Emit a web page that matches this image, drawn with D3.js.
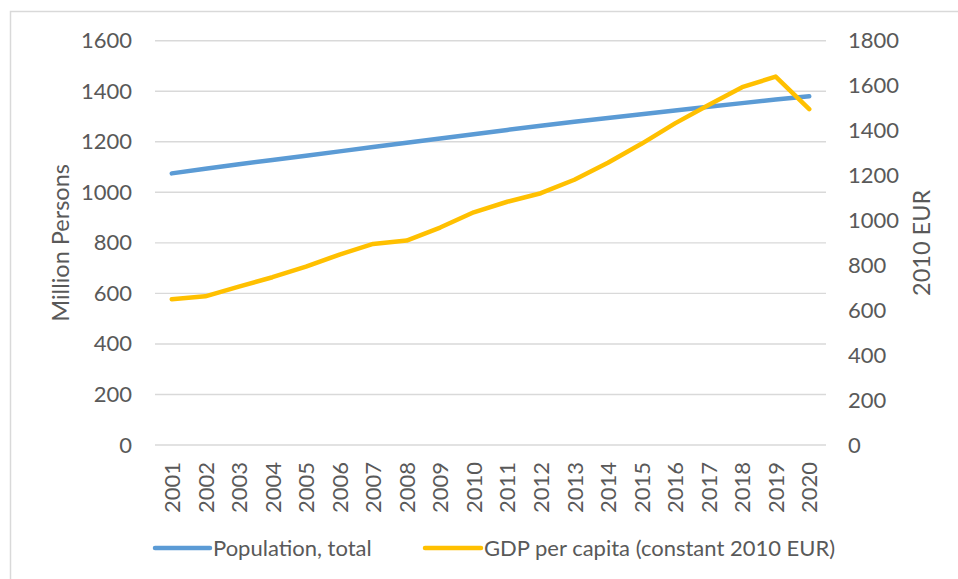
<!DOCTYPE html>
<html>
<head>
<meta charset="utf-8">
<script src="https://cdn.jsdelivr.net/npm/d3@7/dist/d3.min.js"></script>
<style>
  html, body { margin: 0; padding: 0; background: #fff; }
  svg { display: block; }
  text { font-family: Lato, "Open Sans", sans-serif; fill: #595959; }
</style>
</head>
<body>
<svg id="chart" width="958" height="579"></svg>
<script>
const years = ["2001","2002","2003","2004","2005","2006","2007","2008","2009","2010",
               "2011","2012","2013","2014","2015","2016","2017","2018","2019","2020"];
const population = [1075, 1093, 1111, 1128, 1145, 1162, 1179, 1196, 1213, 1230,
                    1247, 1263, 1279, 1294, 1309, 1324, 1339, 1353, 1367, 1380];
const gdpPerCapita = [649, 662, 705, 747, 794, 848, 895, 910, 968, 1036,
                      1083, 1121, 1181, 1257, 1341, 1432, 1514, 1593, 1640, 1495];
const leftTicks = [0, 200, 400, 600, 800, 1000, 1200, 1400, 1600];
const rightTicks = [0, 200, 400, 600, 800, 1000, 1200, 1400, 1600, 1800];
const seriesNames = ["Population, total", "GDP per capita (constant 2010 EUR)"];
const leftTitle = "Million Persons";
const rightTitle = "2010 EUR";
const colors = ["#5B9BD5", "#FFC000"];

const svg = d3.select("#chart");
const plot = { left: 155, right: 826, top: 40.7, bottom: 445 };
const fs = 22;
const titleFs = 23.5;

// outer border
svg.append("rect").attr("x", 10.5).attr("y", 11.5).attr("width", 980).attr("height", 620)
  .attr("fill", "none").attr("stroke", "#D9D9D9").attr("stroke-width", 1.5);

const x = d3.scalePoint().domain(years).range([plot.left, plot.right]).padding(0.5);
const yL = d3.scaleLinear().domain([0, 1600]).range([plot.bottom, plot.top]);
const yR = d3.scaleLinear().domain([0, 1800]).range([plot.bottom, plot.top]);

// gridlines
svg.append("g").selectAll("line").data(leftTicks).join("line")
  .attr("x1", plot.left).attr("x2", plot.right)
  .attr("y1", d => yL(d)).attr("y2", d => yL(d))
  .attr("stroke", "#D9D9D9").attr("stroke-width", 1.4);

// left axis
const gL = svg.append("g").attr("transform", `translate(${plot.left - 23},0)`)
  .call(d3.axisLeft(yL).tickValues(leftTicks).tickSize(0).tickPadding(0).tickFormat(d3.format("d")));
gL.select(".domain").remove();
gL.selectAll("text").style("font-size", fs + "px").attr("fill", "#595959")
  .style("font-family", "Lato, 'Open Sans', sans-serif");

// right axis
const gR = svg.append("g").attr("transform", `translate(${plot.right + 22},0)`)
  .call(d3.axisRight(yR).tickValues(rightTicks).tickSize(0).tickPadding(0).tickFormat(d3.format("d")));
gR.select(".domain").remove();
gR.selectAll("text").style("font-size", fs + "px").attr("fill", "#595959")
  .style("font-family", "Lato, 'Open Sans', sans-serif");

// x axis labels
const gX = svg.append("g").attr("transform", `translate(0,${plot.bottom + 17})`)
  .call(d3.axisBottom(x).tickSize(0).tickPadding(0));
gX.select(".domain").remove();
gX.selectAll("text")
  .attr("transform", "rotate(-90)")
  .attr("x", 0).attr("y", 0).attr("dy", "0.35em")
  .attr("text-anchor", "end")
  .style("font-size", fs + "px").attr("fill", "#595959")
  .style("font-family", "Lato, 'Open Sans', sans-serif");

// axis titles
svg.append("text").attr("transform", `translate(61,${(plot.top + plot.bottom) / 2}) rotate(-90)`)
  .attr("text-anchor", "middle").attr("dy", "0.35em").style("font-size", titleFs + "px").text(leftTitle);
svg.append("text").attr("transform", `translate(922,${(plot.top + plot.bottom) / 2}) rotate(-90)`)
  .attr("text-anchor", "middle").attr("dy", "0.35em").style("font-size", titleFs + "px").text(rightTitle);

// lines
const lineL = d3.line().x((d, i) => x(years[i])).y(d => yL(d));
const lineR = d3.line().x((d, i) => x(years[i])).y(d => yR(d));
svg.append("path").datum(population).attr("d", lineL)
  .attr("fill", "none").attr("stroke", colors[0]).attr("stroke-width", 4.5)
  .attr("stroke-linecap", "round").attr("stroke-linejoin", "round");
svg.append("path").datum(gdpPerCapita).attr("d", lineR)
  .attr("fill", "none").attr("stroke", colors[1]).attr("stroke-width", 4.5)
  .attr("stroke-linecap", "round").attr("stroke-linejoin", "round");

// legend
const legendY = 548;
const legendItems = [{ x1: 155, x2: 210, tx: 213 }, { x1: 425, x2: 481, tx: 484 }];
legendItems.forEach((it, i) => {
  svg.append("line").attr("x1", it.x1).attr("x2", it.x2).attr("y1", legendY).attr("y2", legendY)
    .attr("stroke", colors[i]).attr("stroke-width", 4.5).attr("stroke-linecap", "round");
  svg.append("text").attr("x", it.tx).attr("y", legendY).attr("dy", "0.35em")
    .style("font-size", fs + "px").text(seriesNames[i]);
});
</script>
</body>
</html>
